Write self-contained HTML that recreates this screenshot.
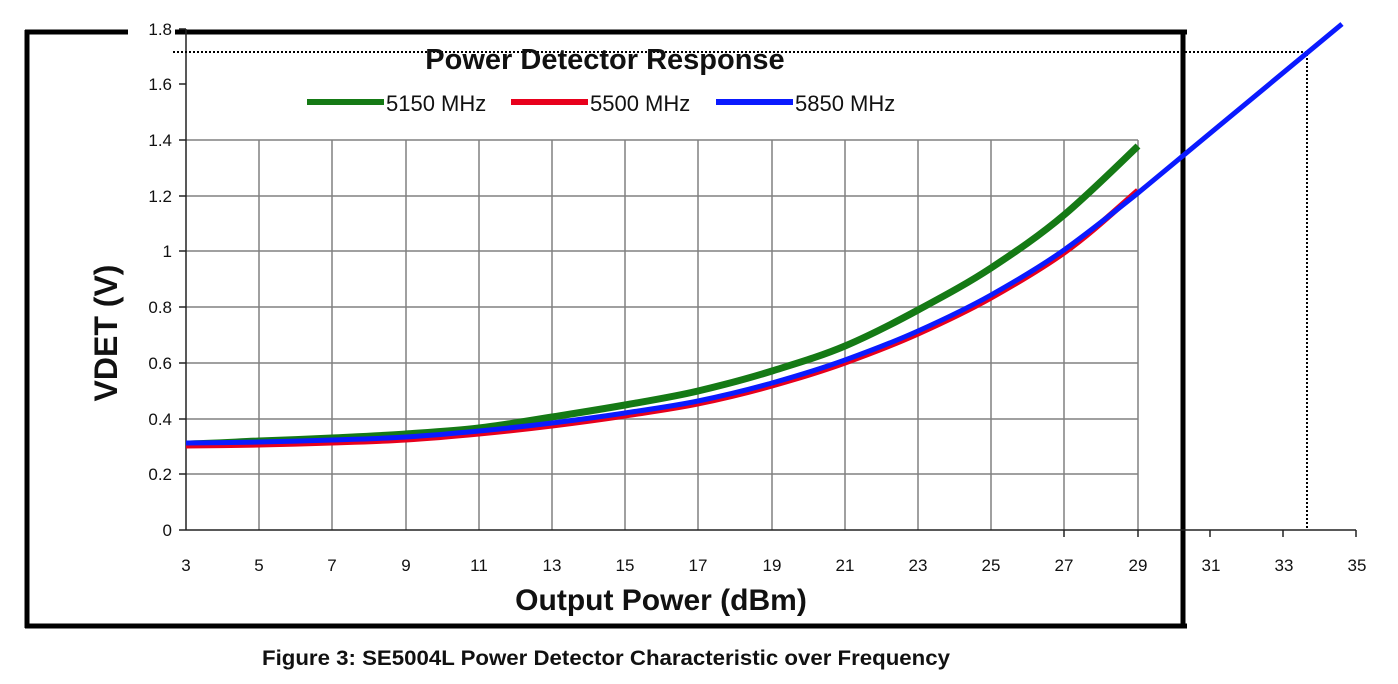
<!DOCTYPE html>
<html><head><meta charset="utf-8"><style>
body{margin:0;background:#fff}
svg{display:block}
text{font-family:"Liberation Sans",sans-serif}
</style></head><body>
<svg width="1398" height="684" viewBox="0 0 1398 684">
<rect width="1398" height="684" fill="#fff"/>
<path d="M25 32 H128 M175 32 H1187 M27 30 V628 M1183 30 V628 M25 626 H1187" stroke="#000" stroke-width="5" fill="none"/>
<g stroke="#808080" stroke-width="1.5">
<line x1="186" y1="140" x2="1138" y2="140"/>
<line x1="186" y1="196" x2="1138" y2="196"/>
<line x1="186" y1="251" x2="1138" y2="251"/>
<line x1="186" y1="307" x2="1138" y2="307"/>
<line x1="186" y1="363" x2="1138" y2="363"/>
<line x1="186" y1="419" x2="1138" y2="419"/>
<line x1="186" y1="474" x2="1138" y2="474"/>
<line x1="259" y1="140" x2="259" y2="530"/>
<line x1="332" y1="140" x2="332" y2="530"/>
<line x1="406" y1="140" x2="406" y2="530"/>
<line x1="479" y1="140" x2="479" y2="530"/>
<line x1="552" y1="140" x2="552" y2="530"/>
<line x1="625" y1="140" x2="625" y2="530"/>
<line x1="698" y1="140" x2="698" y2="530"/>
<line x1="772" y1="140" x2="772" y2="530"/>
<line x1="845" y1="140" x2="845" y2="530"/>
<line x1="918" y1="140" x2="918" y2="530"/>
<line x1="991" y1="140" x2="991" y2="530"/>
<line x1="1064" y1="140" x2="1064" y2="530"/>
<line x1="1138" y1="140" x2="1138" y2="530"/>
</g>
<g stroke="#222" stroke-width="1.5">
<line x1="186" y1="29" x2="186" y2="530"/>
<line x1="186" y1="530" x2="1356" y2="530"/>
<line x1="179" y1="29" x2="186" y2="29"/><line x1="179" y1="84" x2="186" y2="84"/>
<line x1="179" y1="140" x2="186" y2="140"/><line x1="179" y1="196" x2="186" y2="196"/>
<line x1="179" y1="251" x2="186" y2="251"/><line x1="179" y1="307" x2="186" y2="307"/>
<line x1="179" y1="363" x2="186" y2="363"/><line x1="179" y1="419" x2="186" y2="419"/>
<line x1="179" y1="474" x2="186" y2="474"/><line x1="179" y1="530" x2="186" y2="530"/>
<line x1="1064" y1="530" x2="1064" y2="537"/><line x1="1138" y1="530" x2="1138" y2="537"/>
<line x1="1210" y1="530" x2="1210" y2="537"/><line x1="1283" y1="530" x2="1283" y2="537"/><line x1="1356" y1="530" x2="1356" y2="537"/>
</g>
<path d="M173 52 H1307 V530" stroke="#000" stroke-width="2" stroke-dasharray="2,2" fill="none"/>
<g font-size="17" text-anchor="end" fill="#111">
<text x="172" y="35">1.8</text><text x="172" y="90">1.6</text><text x="172" y="146">1.4</text>
<text x="172" y="202">1.2</text><text x="172" y="257">1</text><text x="172" y="313">0.8</text>
<text x="172" y="369">0.6</text><text x="172" y="425">0.4</text><text x="172" y="480">0.2</text><text x="172" y="536">0</text>
</g>
<g font-size="17" text-anchor="middle" fill="#111">
<text x="186" y="571">3</text><text x="259" y="571">5</text><text x="332" y="571">7</text><text x="406" y="571">9</text>
<text x="479" y="571">11</text><text x="552" y="571">13</text><text x="625" y="571">15</text><text x="698" y="571">17</text>
<text x="772" y="571">19</text><text x="845" y="571">21</text><text x="918" y="571">23</text><text x="991" y="571">25</text>
<text x="1064" y="571">27</text><text x="1138" y="571">29</text><text x="1211" y="571">31</text><text x="1284" y="571">33</text><text x="1357" y="571">35</text>
</g>
<g fill="none" stroke-linejoin="round">
<path d="M186 444 C210 443.5 235 442 259 441 C283 440 308 439.2 332 438 C356 436.8 382 435.7 406 434 C430 432.3 455 430.8 479 428 C503 425.2 528 420.8 552 417 C576 413.2 601 409.3 625 405 C649 400.7 674 396.7 698 391 C722 385.3 748 378.5 772 371 C796 363.5 821 356.2 845 346 C869 335.8 894 323 918 310 C942 297 967 283.8 991 268 C1015 252.2 1040 235.3 1064 215 C1088 194.7 1113 170 1138 146" stroke="#157a15" stroke-width="7"/>
<path transform="translate(0,2.5)" d="M186 443 C210 442.8 235 442.5 259 442 C283 441.5 308 440.8 332 440 C356 439.2 382 438.5 406 437 C430 435.5 455 433.3 479 431 C503 428.7 528 426 552 423 C576 420 601 416.7 625 413 C649 409.3 674 406 698 401 C722 396 748 389.8 772 383 C796 376.2 821 368.7 845 360 C869 351.3 894 341.8 918 331 C942 320.2 967 308.5 991 295 C1015 281.5 1040 267 1064 250 C1088 233 1113 210 1138 188" stroke="#e8001c" stroke-width="6"/>
<path d="M186 443 C210 442.8 235 442.5 259 442 C283 441.5 308 440.8 332 440 C356 439.2 382 438.5 406 437 C430 435.5 455 433.3 479 431 C503 428.7 528 426 552 423 C576 420 601 416.7 625 413 C649 409.3 674 406 698 401 C722 396 748 389.8 772 383 C796 376.2 821 368.7 845 360 C869 351.3 894 341.8 918 331 C942 320.2 967 308.5 991 295 C1015 281.5 1040 267 1064 250 C1088 233 1113 213 1138 193 L1342 24" stroke="#0a1aff" stroke-width="5"/>
</g>
<text x="605" y="69" font-size="29" font-weight="bold" text-anchor="middle" fill="#111">Power Detector Response</text>
<line x1="307" y1="102" x2="384" y2="102" stroke="#157a15" stroke-width="6"/>
<text x="386" y="111" font-size="22" fill="#111">5150 MHz</text>
<line x1="511" y1="102" x2="588" y2="102" stroke="#e8001c" stroke-width="6"/>
<text x="590" y="111" font-size="22" fill="#111">5500 MHz</text>
<line x1="716" y1="102" x2="793" y2="102" stroke="#0a1aff" stroke-width="6"/>
<text x="795" y="111" font-size="22" fill="#111">5850 MHz</text>
<text x="661" y="610" font-size="30" font-weight="bold" text-anchor="middle" fill="#111">Output Power (dBm)</text>
<text transform="translate(117,333) rotate(-90)" font-size="32" font-weight="bold" text-anchor="middle" fill="#111">VDET (V)</text>
<text x="606" y="665" font-size="21" font-weight="bold" text-anchor="middle" fill="#111" textLength="688" lengthAdjust="spacingAndGlyphs">Figure 3:  SE5004L Power Detector Characteristic over Frequency</text>
</svg>
</body></html>
